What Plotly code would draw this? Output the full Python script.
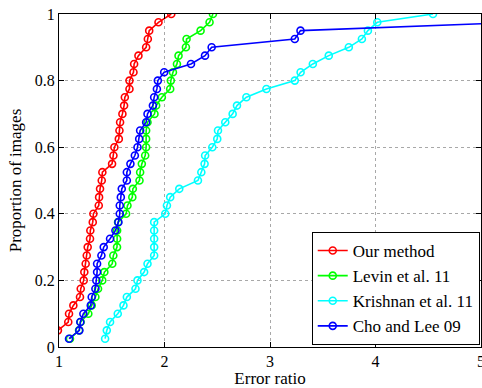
import plotly.graph_objects as go

proportion = [0.025, 0.05, 0.075, 0.1, 0.125, 0.15, 0.175, 0.2, 0.225, 0.25,
              0.275, 0.3, 0.325, 0.35, 0.375, 0.4, 0.425, 0.45, 0.475, 0.5,
              0.525, 0.55, 0.575, 0.6, 0.625, 0.65, 0.675, 0.7, 0.725, 0.75,
              0.775, 0.8, 0.825, 0.85, 0.875, 0.9, 0.925, 0.95, 0.975, 1.0]

our_method = [0.95, 0.99, 1.088, 1.095, 1.136, 1.199, 1.206, 1.234, 1.240, 1.253,
              1.263, 1.272, 1.294, 1.297, 1.320, 1.326, 1.377, 1.380, 1.389, 1.405,
              1.411, 1.503, 1.516, 1.525, 1.567, 1.573, 1.579, 1.601, 1.617, 1.624,
              1.668, 1.668, 1.706, 1.712, 1.753, 1.826, 1.842, 1.855, 1.943, 2.064]

levin = [1.104, 1.19, 1.205, 1.278, 1.31, 1.345, 1.37, 1.41, 1.43, 1.505,
         1.515, 1.55, 1.551, 1.551, 1.56, 1.636, 1.649, 1.695, 1.70, 1.763,
         1.769, 1.785, 1.817, 1.826, 1.826, 1.826, 1.839, 1.905, 1.921, 1.975,
         2.054, 2.06, 2.08, 2.118, 2.133, 2.203, 2.209, 2.342, 2.427, 2.459]

krishnan = [1.437, 1.453, 1.484, 1.557, 1.611, 1.643, 1.725, 1.744, 1.807, 1.839,
            1.902, 1.902, 1.902, 1.902, 1.902, 2.007, 2.023, 2.054, 2.140, 2.317,
            2.349, 2.380, 2.385, 2.453, 2.50, 2.507, 2.576, 2.646, 2.687, 2.776,
            2.966, 3.235, 3.29, 3.406, 3.557, 3.747, 3.871, 3.928, 4.017, 4.545]

cho_lee = [1.095, 1.193, 1.202, 1.231, 1.301, 1.310, 1.345, 1.354, 1.361, 1.361,
           1.402, 1.424, 1.484, 1.535, 1.563, 1.576, 1.576, 1.586, 1.595, 1.643,
           1.643, 1.677, 1.719, 1.744, 1.760, 1.769, 1.826, 1.839, 1.890, 1.902,
           1.928, 1.937, 1.997, 2.251, 2.384, 2.447, 3.235, 3.289, 5.35, 6.2]

series = [
    ("Our method", our_method, "#ff0000"),
    ("Levin et al. 11", levin, "#00ff00"),
    ("Krishnan et al. 11", krishnan, "#00ffff"),
    ("Cho and Lee 09", cho_lee, "#0000ff"),
]

x_ticks = [1, 2, 3, 4, 5]
y_ticks = [0, 0.2, 0.4, 0.6, 0.8, 1]
y_tick_labels = ["0", "0.2", "0.4", "0.6", "0.8", "1"]

FONT = "Liberation Serif, Times New Roman, serif"

fig = go.Figure()
for name, xs, color in series:
    fig.add_trace(go.Scatter(
        x=xs, y=proportion, name=name, mode="lines+markers",
        line=dict(color=color, width=1.6),
        marker=dict(symbol="circle-open", size=7, color=color, line=dict(width=1.6, color=color)),
    ))

axis_common = dict(
    showline=True, linecolor="black", linewidth=1, mirror="ticks",
    ticks="inside", ticklen=5, tickcolor="black", tickwidth=1,
    showgrid=True, gridcolor="#a8a8a8", griddash="dot", gridwidth=1,
    zeroline=False, tickfont=dict(family=FONT, size=16, color="black"),
    ticklabeloverflow="allow",
)

fig.update_xaxes(range=[1, 5], tickvals=x_ticks, ticktext=[str(v) for v in x_ticks],
                 title=dict(text="Error ratio", font=dict(family=FONT, size=17, color="black"), standoff=0),
                 **axis_common)
fig.update_yaxes(range=[0, 1], tickvals=y_ticks, ticktext=y_tick_labels,
                 title=dict(text="Proportion of images", font=dict(family=FONT, size=17, color="black"), standoff=8),
                 **axis_common)

fig.update_layout(
    width=482, height=388,
    margin=dict(l=59, r=1, t=14, b=41, autoexpand=False),
    paper_bgcolor="white", plot_bgcolor="white",
    font=dict(family=FONT, size=15, color="black"),
    showlegend=True,
    legend=dict(
        x=0.997, y=0.006, xanchor="right", yanchor="bottom",
        bgcolor="white", bordercolor="black", borderwidth=1,
        font=dict(family=FONT, size=17, color="black"),
        itemwidth=30, tracegroupgap=0,
    ),
)

fig.write_html("out.html", config={"displayModeBar": False},
               post_script="document.documentElement.style.margin='0';document.body.style.margin='0';document.body.style.padding='0';")
